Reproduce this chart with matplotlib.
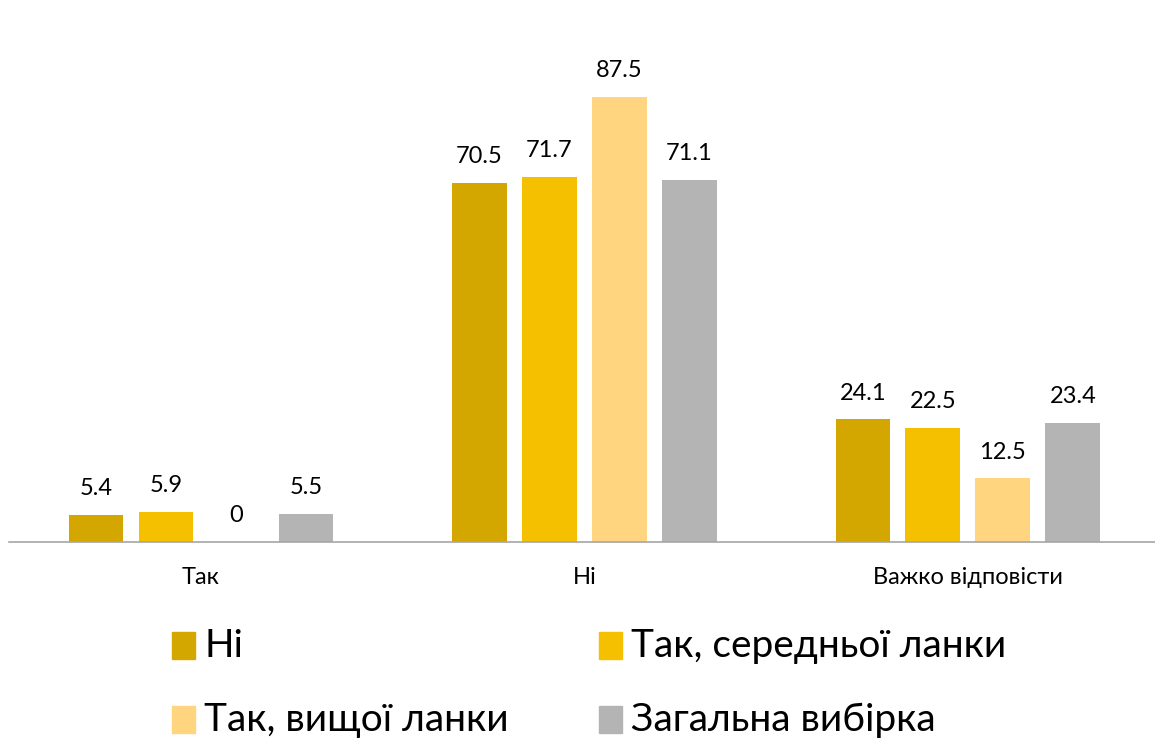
import matplotlib.pyplot as plt
from matplotlib.patches import Rectangle
import numpy as np

plt.rcParams['font.family'] = ['Lato', 'DejaVu Sans']

categories = ["Так", "Ні", "Важко відповісти"]
series_names = ["Ні", "Так, середньої ланки", "Так, вищої ланки", "Загальна вибірка"]
values = {
    "Ні": [5.4, 70.5, 24.1],
    "Так, середньої ланки": [5.9, 71.7, 22.5],
    "Так, вищої ланки": [0, 87.5, 12.5],
    "Загальна вибірка": [5.5, 71.1, 23.4],
}
colors = ["#D4A600", "#F5C000", "#FFD580", "#B4B4B4"]

fig = plt.figure(figsize=(11.55, 7.42), dpi=100)
ax = fig.add_axes([0.008, 0.2695, 0.996, 0.7035])

x = np.arange(len(categories))
pitch = 0.1825
width = 0.143
for i, name in enumerate(series_names):
    pos = x + (i - 1.5) * pitch
    bars = ax.bar(pos, values[name], width=width, color=colors[i])
    for xp, v in zip(pos, values[name]):
        ax.annotate(f"{v:g}", (xp, v), xytext=(0, 19), textcoords="offset points",
                    ha="center", va="center", fontsize=17, color="black")

ax.set_xlim(-0.5, 2.5)
ax.set_ylim(0, 102.6)
for s in ["top", "right", "left"]:
    ax.spines[s].set_visible(False)
ax.spines["bottom"].set_color("#A6A6A6")
ax.spines["bottom"].set_linewidth(1.2)
ax.set_yticks([])
ax.set_xticks(x)
ax.set_xticklabels(categories, fontsize=17)
ax.tick_params(axis="x", length=0, pad=18)

# legend, drawn by hand in figure pixels
W, H = 1155, 742
legend_pos = [(172, 646), (599, 646), (172, 720), (599, 720)]
for (lx, ly), name, c in zip(legend_pos, series_names, colors):
    fig.patches.append(Rectangle((lx / W, (H - ly - 13) / H), 23 / W, 27 / H,
                                 transform=fig.transFigure, color=c))
    fig.text((lx + 32) / W, (H - ly) / H, name, fontsize=28, va="center", ha="left")

fig.savefig("out.png", dpi=100)
